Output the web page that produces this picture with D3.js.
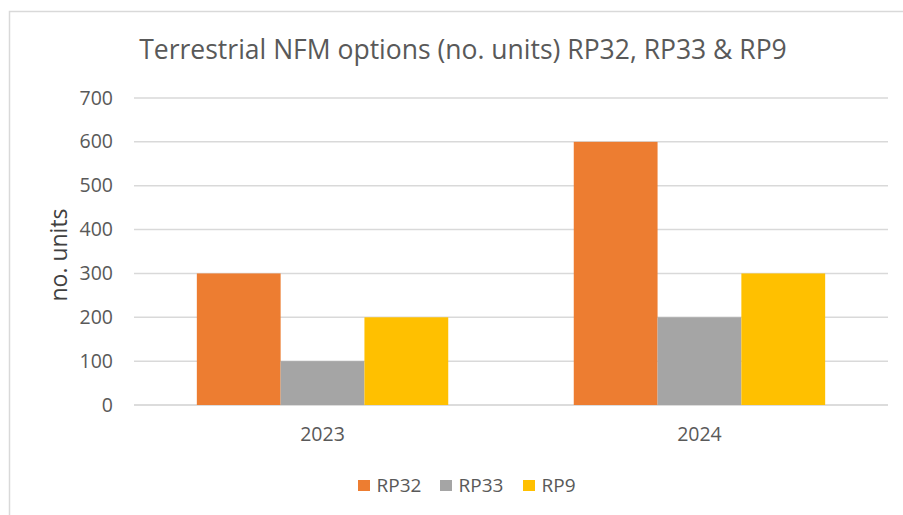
<!DOCTYPE html>
<html>
<head>
<meta charset="utf-8">
<script src="https://cdn.jsdelivr.net/npm/d3@7"></script>
<style>
  body { margin: 0; background: #fff; }
  svg { display: block; font-family: "Open Sans", "Liberation Sans", sans-serif; }
</style>
</head>
<body>
<svg id="chart" width="903" height="515"></svg>
<script>
// data
const years = ["2023", "2024"];
const seriesNames = ["RP32", "RP33", "RP9"];
const rp32 = [300, 600];
const rp33 = [100, 200];
const rp9 = [200, 300];
const yTicks = [0, 100, 200, 300, 400, 500, 600, 700];

const colors = { RP32: "#ED7D31", RP33: "#A5A5A5", RP9: "#FFC000" };
const textColor = "#595959";

const svg = d3.select("#chart");

// outer chart border (runs off the right & bottom edges)
svg.append("rect")
  .attr("x", 9.5).attr("y", 11.5)
  .attr("width", 910).attr("height", 520)
  .attr("fill", "none").attr("stroke", "#d9d9d9").attr("stroke-width", 1.5);

svg.append("text")
  .attr("x", 463).attr("y", 59)
  .attr("text-anchor", "middle")
  .attr("fill", textColor)
  .style("font-size", "26.5px")
  .text("Terrestrial NFM options (no. units) RP32, RP33 & RP9");

var y = d3.scaleLinear().domain([0, 700]).range([405, 98]);
var x0 = d3.scaleBand().domain(years).range([134, 888])
  .paddingInner(0.333).paddingOuter(0.1667);
var x1 = d3.scaleBand().domain(seriesNames).range([0, x0.bandwidth()]);

// gridlines
svg.append("g")
  .selectAll("line")
  .data(yTicks)
  .enter()
  .append("line")
  .attr("x1", 134).attr("x2", 888)
  .attr("y1", function (d) { return y(d); })
  .attr("y2", function (d) { return y(d); })
  .attr("stroke", function (d) { return d === 0 ? "#d0d0d0" : "#d9d9d9"; })
  .attr("stroke-width", 1.5);

// y tick labels
svg.append("g")
  .selectAll("text")
  .data(yTicks)
  .enter()
  .append("text")
  .attr("x", 113)
  .attr("y", function (d) { return y(d) + 6.5; })
  .attr("text-anchor", "end")
  .attr("fill", textColor)
  .style("font-size", "19.5px")
  .text(function (d) { return d; });

svg.append("text")
  .attr("transform", "translate(67,255) rotate(-90)")
  .attr("text-anchor", "middle")
  .attr("fill", "#404040")
  .style("font-size", "23px")
  .text("no. units");

// bars
var rows = years.map(function (yr, i) {
  return { year: yr, values: [
    { key: "RP32", value: rp32[i] },
    { key: "RP33", value: rp33[i] },
    { key: "RP9", value: rp9[i] }
  ] };
});

svg.append("g")
  .selectAll("g")
  .data(rows)
  .enter()
  .append("g")
  .attr("transform", function (d) { return "translate(" + x0(d.year) + ",0)"; })
  .selectAll("rect")
  .data(function (d) { return d.values; })
  .enter()
  .append("rect")
  .attr("x", function (d) { return x1(d.key); })
  .attr("width", x1.bandwidth())
  .attr("y", function (d) { return y(d.value); })
  .attr("height", function (d) { return y(0) - y(d.value); })
  .attr("fill", function (d) { return colors[d.key]; });

// x category labels
svg.append("g")
  .selectAll("text")
  .data(years)
  .enter()
  .append("text")
  .attr("x", function (d) { return x0(d) + x0.bandwidth() / 2; })
  .attr("y", 441)
  .attr("text-anchor", "middle")
  .attr("fill", textColor)
  .style("font-size", "19.5px")
  .text(function (d) { return d; });

// legend
var legendX = [358, 440, 523];
var legend = svg.append("g")
  .selectAll("g")
  .data(seriesNames)
  .enter()
  .append("g")
  .attr("transform", function (d, i) { return "translate(" + legendX[i] + ",480)"; });

legend.append("rect")
  .attr("width", 12).attr("height", 11)
  .attr("fill", function (d) { return colors[d]; });

legend.append("text")
  .attr("x", 18.5).attr("y", 11.5)
  .attr("fill", textColor)
  .style("font-size", "19px")
  .text(function (d) { return d; });
</script>
</body>
</html>
